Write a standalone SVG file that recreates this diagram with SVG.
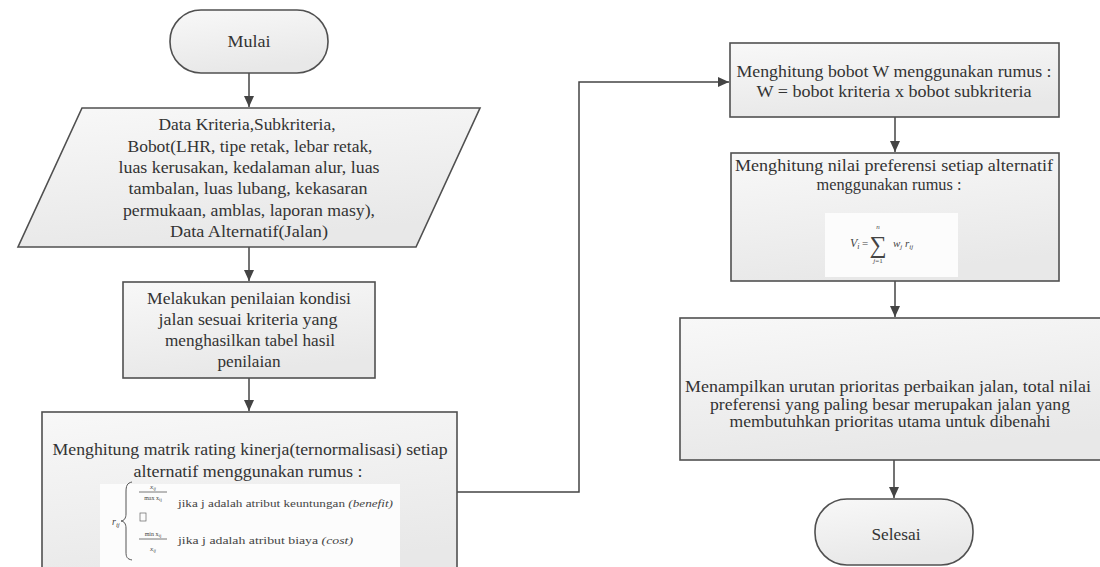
<svg xmlns="http://www.w3.org/2000/svg" width="1100" height="567" viewBox="0 0 1100 567">
<style>
.shape{fill:url(#g);stroke:#505050;stroke-width:1.6}
.t{font-family:"Liberation Serif","Times New Roman",serif;font-size:16px;fill:#333;text-anchor:middle}
.f{font-family:"Liberation Serif","Times New Roman",serif;fill:#444}
.c{fill:none;stroke:#444;stroke-width:1.5}
</style>
<defs>
<linearGradient id="g" x1="0" y1="0" x2="0.3" y2="1">
<stop offset="0" stop-color="#f8f8f8"/>
<stop offset="1" stop-color="#e8e8e8"/>
</linearGradient>
<marker id="ah" markerUnits="userSpaceOnUse" markerWidth="11" markerHeight="10" refX="11" refY="5" orient="auto">
<path d="M0,0 L11,5 L0,10 z" fill="#444"/>
</marker>
</defs>
<rect width="1100" height="567" fill="#fff"/>

<g id="connectors">
<line class="c" x1="249" y1="73" x2="249" y2="107" marker-end="url(#ah)"/>
<line class="c" x1="249" y1="247" x2="249" y2="281" marker-end="url(#ah)"/>
<line class="c" x1="249" y1="378" x2="249" y2="411" marker-end="url(#ah)"/>
<polyline class="c" points="457,492 579,492 579,82 729,82" marker-end="url(#ah)"/>
<line class="c" x1="895" y1="117" x2="895" y2="152" marker-end="url(#ah)"/>
<line class="c" x1="895" y1="281" x2="895" y2="317" marker-end="url(#ah)"/>
<line class="c" x1="894" y1="460" x2="894" y2="498" marker-end="url(#ah)"/>
</g>

<g id="mulai">
<rect class="shape" x="170" y="10" width="158" height="63" rx="31" ry="31"/>
<text class="t" x="249" y="47" textLength="43" lengthAdjust="spacingAndGlyphs">Mulai</text>
</g>

<g id="input-data">
<polygon class="shape" points="82,108 480,108 416,247 18,247"/>
<text class="t" x="247" y="130" textLength="177" lengthAdjust="spacingAndGlyphs">Data Kriteria,Subkriteria,</text>
<text class="t" x="250" y="152" textLength="245" lengthAdjust="spacingAndGlyphs">Bobot(LHR, tipe retak, lebar retak,</text>
<text class="t" x="249" y="173" textLength="261" lengthAdjust="spacingAndGlyphs">luas kerusakan, kedalaman alur, luas</text>
<text class="t" x="248" y="194" textLength="239" lengthAdjust="spacingAndGlyphs">tambalan, luas lubang, kekasaran</text>
<text class="t" x="249" y="216" textLength="252" lengthAdjust="spacingAndGlyphs">permukaan, amblas, laporan masy),</text>
<text class="t" x="249" y="237" textLength="158" lengthAdjust="spacingAndGlyphs">Data Alternatif(Jalan)</text>
</g>

<g id="penilaian">
<rect class="shape" x="123" y="282" width="252" height="96"/>
<text class="t" x="249" y="304" textLength="204" lengthAdjust="spacingAndGlyphs">Melakukan penilaian kondisi</text>
<text class="t" x="248" y="325" textLength="179" lengthAdjust="spacingAndGlyphs">jalan sesuai kriteria yang</text>
<text class="t" x="250" y="346" textLength="170" lengthAdjust="spacingAndGlyphs">menghasilkan tabel hasil</text>
<text class="t" x="249" y="367" textLength="63" lengthAdjust="spacingAndGlyphs">penilaian</text>
</g>

<g id="normalisasi">
<rect class="shape" x="42" y="412" width="415" height="170"/>
<text class="t" x="250" y="455" textLength="395" lengthAdjust="spacingAndGlyphs">Menghitung matrik rating kinerja(ternormalisasi) setiap</text>
<text class="t" x="248" y="477" textLength="229" lengthAdjust="spacingAndGlyphs">alternatif menggunakan rumus :</text>
<rect x="100" y="484" width="300" height="83" fill="#fcfcfc"/>
<text class="f" x="112" y="525" font-size="10" font-style="italic">r<tspan font-size="7" dy="2">ij</tspan></text>
<path d="M132,482 C127,483 126,486 126,492 L126,514 C126,518 124,521 121,521 C124,521 126,524 126,528 L126,552 C126,557 127,559 132,560" fill="none" stroke="#555" stroke-width="1"/>
<text class="f" x="153" y="489" font-size="7" font-style="italic" text-anchor="middle">x<tspan font-size="5" dy="1">ij</tspan></text>
<line x1="139" y1="492" x2="167" y2="492" stroke="#555" stroke-width="0.8"/>
<text class="f" x="153" y="500" font-size="6" text-anchor="middle">max x<tspan font-size="5" dy="1">ij</tspan></text>
<rect x="140" y="513" width="6" height="8" fill="none" stroke="#666" stroke-width="0.7"/>
<text class="f" x="153" y="536" font-size="6" text-anchor="middle">min x<tspan font-size="5" dy="1">ij</tspan></text>
<line x1="139" y1="539" x2="167" y2="539" stroke="#555" stroke-width="0.8"/>
<text class="f" x="153" y="551" font-size="7" font-style="italic" text-anchor="middle">x<tspan font-size="5" dy="1">ij</tspan></text>
<text class="f" x="178" y="507" font-size="10.5" textLength="215" lengthAdjust="spacingAndGlyphs">jika j adalah atribut keuntungan <tspan font-style="italic">(benefit)</tspan></text>
<text class="f" x="178" y="544" font-size="10.5" textLength="175" lengthAdjust="spacingAndGlyphs">jika j adalah atribut biaya <tspan font-style="italic">(cost)</tspan></text>
</g>

<g id="bobot-w">
<rect class="shape" x="730" y="43" width="329" height="74"/>
<text class="t" x="894" y="77" textLength="315" lengthAdjust="spacingAndGlyphs">Menghitung bobot W menggunakan rumus :</text>
<text class="t" x="894" y="97" textLength="275" lengthAdjust="spacingAndGlyphs">W = bobot kriteria x bobot subkriteria</text>
</g>

<g id="preferensi">
<rect class="shape" x="731" y="153" width="328" height="128"/>
<text class="t" x="894" y="171" textLength="318" lengthAdjust="spacingAndGlyphs">Menghitung nilai preferensi setiap alternatif</text>
<text class="t" x="889" y="190" textLength="145" lengthAdjust="spacingAndGlyphs">menggunakan rumus :</text>
<rect x="825" y="213" width="133" height="64" fill="#fcfcfc"/>
<text class="f" x="850" y="247" font-size="12" font-style="italic">V<tspan font-size="8" dy="2">i</tspan></text>
<text class="f" x="862" y="247" font-size="11">=</text>
<text class="f" x="878" y="253" font-size="24" text-anchor="middle">∑</text>
<text class="f" x="878" y="229" font-size="7" font-style="italic" text-anchor="middle">n</text>
<text class="f" x="878" y="263" font-size="7" text-anchor="middle"><tspan font-style="italic">j</tspan>=1</text>
<text class="f" x="893" y="247" font-size="11" font-style="italic">w<tspan font-size="7" dy="2">j</tspan><tspan dy="-2"> r</tspan><tspan font-size="7" dy="2">ij</tspan></text>
</g>

<g id="hasil">
<rect class="shape" x="680" y="318" width="426" height="142"/>
<text class="t" x="888" y="392" textLength="406" lengthAdjust="spacingAndGlyphs">Menampilkan urutan prioritas perbaikan jalan, total nilai</text>
<text class="t" x="890" y="410" textLength="360" lengthAdjust="spacingAndGlyphs">preferensi yang paling besar merupakan jalan yang</text>
<text class="t" x="890" y="427" textLength="321" lengthAdjust="spacingAndGlyphs">membutuhkan prioritas utama untuk dibenahi</text>
</g>

<g id="selesai">
<rect class="shape" x="815" y="499" width="158" height="66" rx="32" ry="32"/>
<text class="t" x="896" y="540" textLength="49" lengthAdjust="spacingAndGlyphs">Selesai</text>
</g>
</svg>
